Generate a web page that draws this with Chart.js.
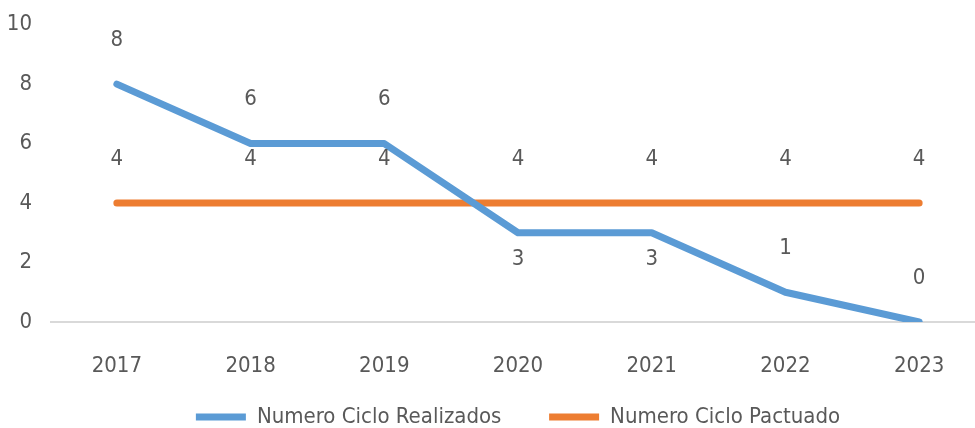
<!DOCTYPE html>
<html>
<head>
<meta charset="utf-8">
<script src="https://cdn.jsdelivr.net/npm/chart.js@4.4.1/dist/chart.umd.min.js"></script>
<style>
  html, body { margin: 0; padding: 0; background: #fff; overflow: hidden; }
  #wrap { width: 986px; height: 438px; }
</style>
</head>
<body>
<div id="wrap"><canvas id="myChart"></canvas></div>
<script>
var years = ['2017', '2018', '2019', '2020', '2021', '2022', '2023'];
var realizados = [8, 6, 6, 3, 3, 1, 0];
var pactuado = [4, 4, 4, 4, 4, 4, 4];
var yTicks = [0, 2, 4, 6, 8, 10];

var fontFam = "'Liberation Sans Narrow', 'DejaVu Sans', sans-serif";
var fontStretch = 'condensed';
var fontSize = 22;
var textColor = '#595959';

// Excel-like data labels: above or below each point
var labelSide = {
    0: ['up', 'up', 'up', 'down', 'down', 'up', 'up'],
    1: ['up', 'up', 'up', 'up', 'up', 'up', 'up']
};

var dataLabels = {
    id: 'dataLabels',
    afterDatasetsDraw: function (chart) {
        var ctx = chart.ctx;
        ctx.save();
        ctx.font = fontStretch + ' ' + fontSize + 'px ' + fontFam;
        ctx.fillStyle = textColor;
        ctx.textAlign = 'center';
        ctx.textBaseline = 'middle';
        chart.data.datasets.forEach(function (ds, di) {
            var meta = chart.getDatasetMeta(di);
            meta.data.forEach(function (pt, i) {
                var dy = labelSide[di][i] == 'up' ? -44 : 27;
                ctx.fillText(ds.data[i], pt.x, pt.y + dy);
            });
        });
        ctx.restore();
    }
};

var txtFont = { family: fontFam, size: fontSize, weight: fontStretch };

var config = {
    type: 'line',
    data: {
        labels: years,
        datasets: [{
            label: 'Numero Ciclo Realizados',
            data: realizados,
            borderColor: '#5B9BD5',
            backgroundColor: '#5B9BD5',
            borderWidth: 7,
            borderCapStyle: 'round',
            borderJoinStyle: 'round',
            pointRadius: 0,
            tension: 0
        }, {
            label: 'Numero Ciclo Pactuado',
            data: pactuado,
            borderColor: '#ED7D31',
            backgroundColor: '#ED7D31',
            borderWidth: 7,
            borderCapStyle: 'round',
            borderJoinStyle: 'round',
            pointRadius: 0,
            tension: 0
        }]
    },
    options: {
        responsive: true,
        maintainAspectRatio: false,
        animation: false,
        layout: { padding: { top: 16, right: 0, bottom: 0, left: 0 } },
        plugins: {
            tooltip: { enabled: false },
            legend: {
                position: 'bottom',
                fullSize: false,
                labels: {
                    usePointStyle: true,
                    pointStyle: 'line',
                    pointStyleWidth: 50,
                    color: textColor,
                    font: txtFont,
                    padding: 10,
                    generateLabels: function (chart) {
                        var items = Chart.defaults.plugins.legend.labels.generateLabels(chart);
                        // extra gap after the first entry
                        items[0].text = items[0].text + '      ';
                        return items;
                    }
                }
            }
        },
        scales: {
            x: {
                offset: true,
                afterFit: function (scale) { scale.height = 74; },
                border: { display: false },
                grid: { display: false, drawTicks: false },
                ticks: {
                    color: textColor,
                    font: txtFont,
                    padding: 31,
                    maxRotation: 0
                }
            },
            y: {
                min: 0,
                max: 10,
                afterFit: function (scale) { scale.width = 50; },
                afterBuildTicks: function (scale) {
                    scale.ticks = yTicks.map(function (v) { return { value: v }; });
                },
                border: { display: false },
                grid: {
                    drawTicks: false,
                    lineWidth: 2,
                    color: function (c) { return c.tick && c.tick.value === 0 ? '#D9D9D9' : 'rgba(0,0,0,0)'; }
                },
                ticks: {
                    color: textColor,
                    font: { family: fontFam, size: fontSize, weight: fontStretch, lineHeight: 0.6 },
                    padding: 18
                }
            }
        }
    },
    plugins: [dataLabels]
};

var myChart = new Chart(document.getElementById('myChart'), config);
</script>
</body>
</html>
